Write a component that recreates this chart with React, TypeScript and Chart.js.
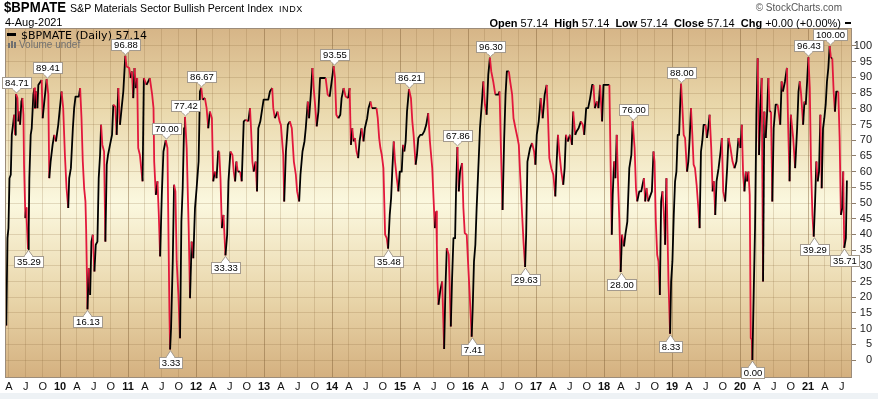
import React, { useEffect, useRef } from 'react';
import { Chart, registerables } from 'chart.js';

Chart.register(...registerables);

// ---- data: [decimal year, bullish percent] ----
const readings2009to2012: [number, number][] = [
  [2009.198, 15.0], [2009.210, 11.0], [2009.227, 38.8], [2009.242, 42.0], [2009.257, 57.9], [2009.276, 59.0], [2009.291, 71.7], [2009.315, 76.0], [2009.325, 78.1], [2009.340, 71.7],
  [2009.349, 79.1], [2009.354, 84.71], [2009.374, 83.4], [2009.388, 76.0], [2009.403, 79.1], [2009.413, 74.9], [2009.432, 82.3], [2009.447, 83.4], [2009.462, 78.1], [2009.471, 62.2],
  [2009.491, 45.2], [2009.501, 48.4], [2009.510, 44.6], [2009.530, 35.29], [2009.540, 42.0], [2009.549, 57.9], [2009.569, 71.7], [2009.584, 73.8], [2009.608, 84.5], [2009.623, 86.6],
  [2009.632, 80.2], [2009.647, 85.5], [2009.667, 80.2], [2009.681, 87.6], [2009.715, 88.7], [2009.730, 89.2], [2009.745, 77.0], [2009.769, 82.3], [2009.803, 89.41], [2009.828, 84.5],
  [2009.842, 57.9], [2009.862, 63.2], [2009.891, 68.5], [2009.915, 71.7], [2009.940, 69.6], [2009.974, 74.9], [2009.998, 80.2], [2010.023, 85.5], [2010.047, 80.2], [2010.072, 65.3],
  [2010.096, 54.7], [2010.121, 48.4], [2010.135, 57.9], [2010.160, 61.1], [2010.189, 73.8], [2010.208, 80.2], [2010.228, 83.9], [2010.277, 83.9], [2010.296, 86.6], [2010.316, 77.0],
  [2010.335, 63.2], [2010.355, 54.7], [2010.374, 50.5], [2010.384, 42.0], [2010.404, 16.13], [2010.423, 29.2], [2010.443, 20.7], [2010.462, 37.7], [2010.482, 39.9], [2010.506, 28.2],
  [2010.526, 36.7], [2010.550, 37.7], [2010.569, 57.9], [2010.589, 65.3], [2010.604, 74.9], [2010.623, 68.5], [2010.648, 66.4], [2010.667, 37.7], [2010.687, 62.2], [2010.706, 65.3],
  [2010.735, 68.5], [2010.765, 71.7], [2010.784, 81.3], [2010.813, 80.7], [2010.833, 71.7], [2010.857, 86.6], [2010.882, 74.9], [2010.906, 80.2], [2010.931, 85.5], [2010.960, 96.88],
  [2010.979, 93.5], [2011.018, 93.0], [2011.038, 89.8], [2011.057, 91.9], [2011.077, 83.4], [2011.096, 93.0], [2011.116, 86.6], [2011.135, 89.8], [2011.150, 67.5], [2011.175, 65.3],
  [2011.199, 60.0], [2011.214, 56.9], [2011.233, 89.8], [2011.272, 87.6], [2011.321, 89.8], [2011.355, 84.5], [2011.375, 80.2], [2011.385, 63.2], [2011.409, 52.6], [2011.433, 56.9],
  [2011.453, 46.2], [2011.472, 33.0], [2011.497, 52.6], [2011.521, 66.4], [2011.555, 70.0], [2011.580, 67.5], [2011.594, 42.0], [2011.609, 15.4], [2011.619, 3.33], [2011.633, 10.1],
  [2011.658, 31.4], [2011.677, 55.8], [2011.697, 53.7], [2011.716, 31.4], [2011.741, 20.7], [2011.765, 6.9], [2011.785, 44.1], [2011.804, 54.7], [2011.824, 73.8], [2011.838, 77.42],
  [2011.863, 67.5], [2011.892, 42.0], [2011.912, 19.7], [2011.936, 37.7], [2011.960, 32.4], [2011.985, 48.4], [2012.009, 54.7], [2012.038, 63.2], [2012.058, 85.5], [2012.078, 86.67],
  [2012.097, 82.9], [2012.131, 83.4], [2012.156, 80.2], [2012.180, 73.8], [2012.204, 79.1], [2012.234, 77.0], [2012.253, 56.9], [2012.278, 60.0], [2012.302, 57.9], [2012.326, 66.4],
];

const readings2012to2015: [number, number][] = [
  [2012.341, 66.4], [2012.360, 57.9], [2012.380, 42.0], [2012.404, 46.2], [2012.433, 33.33], [2012.458, 39.9], [2012.477, 56.9], [2012.506, 66.4], [2012.536, 65.3], [2012.555, 60.0],
  [2012.575, 56.9], [2012.594, 63.2], [2012.614, 60.0], [2012.648, 60.0], [2012.672, 56.9], [2012.702, 76.0], [2012.731, 76.5], [2012.770, 76.0], [2012.794, 80.2], [2012.809, 73.8],
  [2012.829, 63.2], [2012.848, 60.0], [2012.877, 63.2], [2012.897, 53.7], [2012.916, 73.8], [2012.946, 76.0], [2012.975, 80.2], [2012.994, 82.9], [2013.063, 82.9], [2013.087, 85.5],
  [2013.121, 86.6], [2013.136, 80.2], [2013.160, 77.0], [2013.199, 79.1], [2013.229, 76.0], [2013.248, 74.9], [2013.283, 65.3], [2013.297, 50.5], [2013.322, 66.4], [2013.351, 74.9],
  [2013.380, 76.0], [2013.409, 73.8], [2013.439, 63.2], [2013.468, 59.0], [2013.487, 53.7], [2013.517, 50.5], [2013.536, 59.0], [2013.566, 66.4], [2013.595, 69.6], [2013.614, 73.8],
  [2013.644, 82.3], [2013.663, 77.0], [2013.688, 84.5], [2013.712, 93.0], [2013.731, 86.6], [2013.751, 81.3], [2013.775, 74.4], [2013.800, 79.1], [2013.824, 89.8], [2013.907, 89.8],
  [2013.936, 84.5], [2013.966, 83.9], [2013.985, 87.1], [2014.024, 93.55], [2014.044, 89.8], [2014.063, 78.1], [2014.093, 77.0], [2014.122, 78.1], [2014.141, 83.4], [2014.171, 86.6],
  [2014.200, 83.9], [2014.239, 83.4], [2014.259, 86.6], [2014.278, 68.5], [2014.298, 73.8], [2014.317, 69.6], [2014.337, 70.7], [2014.361, 66.4], [2014.385, 64.3], [2014.405, 69.6],
  [2014.434, 73.8], [2014.463, 69.6], [2014.483, 73.8], [2014.517, 77.0], [2014.537, 80.2], [2014.566, 82.3], [2014.586, 80.2], [2014.654, 80.2], [2014.673, 77.0], [2014.693, 70.7],
  [2014.712, 67.5], [2014.732, 65.3], [2014.756, 61.1], [2014.781, 39.9], [2014.805, 38.8], [2014.825, 35.48], [2014.849, 46.2], [2014.869, 51.5], [2014.888, 61.1], [2014.908, 69.6],
  [2014.927, 63.2], [2014.952, 57.9], [2014.976, 53.7], [2014.996, 60.0], [2015.025, 60.0], [2015.044, 68.5], [2015.064, 66.4], [2015.083, 69.6], [2015.103, 79.1], [2015.132, 86.21],
  [2015.161, 83.4], [2015.181, 76.0], [2015.200, 71.7], [2015.230, 62.2], [2015.249, 65.3], [2015.269, 70.7], [2015.298, 71.7], [2015.327, 71.7], [2015.356, 72.8], [2015.386, 74.9],
  [2015.415, 78.6], [2015.440, 69.6], [2015.474, 61.1], [2015.493, 51.5], [2015.513, 42.0],
];

const readings2015to2018: [number, number][] = [
  [2015.532, 47.3], [2015.542, 36.7], [2015.551, 25.0], [2015.566, 17.6], [2015.590, 21.8], [2015.620, 25.0], [2015.649, 3.5], [2015.668, 22.9], [2015.688, 35.6], [2015.717, 33.5],
  [2015.747, 10.7], [2015.766, 26.1], [2015.786, 38.8], [2015.810, 38.8], [2015.825, 54.7], [2015.844, 67.86], [2015.864, 53.7], [2015.883, 60.0], [2015.913, 62.7], [2015.932, 48.4],
  [2015.952, 40.4], [2015.981, 39.9], [2016.000, 31.4], [2016.020, 22.9], [2016.039, 14.4], [2016.054, 7.41], [2016.069, 16.5], [2016.088, 31.4], [2016.108, 36.7], [2016.127, 48.4],
  [2016.156, 63.2], [2016.176, 73.8], [2016.205, 82.3], [2016.225, 88.7], [2016.249, 81.3], [2016.274, 78.1], [2016.298, 90.8], [2016.322, 96.3], [2016.342, 91.9], [2016.371, 88.7],
  [2016.401, 84.5], [2016.445, 84.5], [2016.464, 85.5], [2016.484, 67.5], [2016.508, 47.8], [2016.532, 70.7], [2016.552, 84.5], [2016.571, 91.9], [2016.601, 91.9], [2016.620, 88.7],
  [2016.649, 84.5], [2016.669, 77.0], [2016.698, 73.8], [2016.728, 70.7], [2016.747, 68.5], [2016.767, 59.0], [2016.796, 46.2], [2016.816, 37.7], [2016.840, 29.63], [2016.855, 39.9],
  [2016.874, 63.2], [2016.893, 65.3], [2016.913, 67.5], [2016.942, 69.1], [2016.972, 66.4], [2016.991, 62.2], [2017.011, 71.7], [2017.040, 76.0], [2017.069, 83.4], [2017.098, 77.0],
  [2017.128, 84.5], [2017.157, 87.6], [2017.177, 77.0], [2017.196, 64.3], [2017.225, 61.1], [2017.255, 59.0], [2017.284, 52.1], [2017.304, 63.2], [2017.323, 71.7], [2017.342, 66.4],
  [2017.372, 60.0], [2017.401, 55.8], [2017.421, 61.1], [2017.440, 71.7], [2017.469, 69.6], [2017.499, 71.7], [2017.528, 68.5], [2017.547, 79.1], [2017.577, 71.7], [2017.596, 72.8],
  [2017.626, 73.8], [2017.660, 76.0], [2017.689, 74.9], [2017.709, 71.7], [2017.738, 80.2], [2017.767, 80.2], [2017.796, 83.4], [2017.826, 87.6], [2017.845, 87.6], [2017.865, 80.2],
  [2017.894, 82.3], [2017.918, 80.2], [2017.943, 87.6], [2017.972, 76.0], [2017.992, 87.6], [2018.079, 87.6], [2018.099, 60.0], [2018.114, 39.9], [2018.128, 52.6], [2018.148, 63.2],
  [2018.167, 57.9], [2018.187, 71.7], [2018.206, 56.9], [2018.226, 44.1], [2018.245, 28.0], [2018.265, 39.9], [2018.294, 36.2], [2018.314, 39.9], [2018.343, 44.1], [2018.372, 61.1],
  [2018.402, 65.3], [2018.421, 76.0], [2018.450, 67.5], [2018.470, 54.7], [2018.489, 50.5], [2018.519, 53.7], [2018.548, 53.7], [2018.567, 55.8], [2018.587, 57.9], [2018.606, 50.5],
  [2018.626, 54.7], [2018.650, 50.5],
];

const readings2018to2021: [number, number][] = [
  [2018.704, 53.7], [2018.728, 66.4], [2018.743, 63.2], [2018.762, 44.1], [2018.782, 33.5], [2018.801, 31.4], [2018.821, 20.7], [2018.840, 50.5], [2018.860, 53.7], [2018.879, 47.3],
  [2018.899, 36.7], [2018.918, 57.9], [2018.948, 25.0], [2018.972, 8.33], [2018.987, 25.0], [2019.006, 31.4], [2019.026, 46.2], [2019.045, 56.9], [2019.065, 60.0], [2019.084, 71.7],
  [2019.104, 71.7], [2019.118, 80.2], [2019.133, 88.0], [2019.153, 80.2], [2019.172, 71.7], [2019.192, 70.7], [2019.221, 60.0], [2019.240, 63.2], [2019.260, 70.7], [2019.279, 80.2],
  [2019.299, 71.7], [2019.318, 62.2], [2019.338, 61.1], [2019.362, 55.8], [2019.387, 48.4], [2019.406, 42.0], [2019.426, 66.4], [2019.445, 69.6], [2019.465, 74.9], [2019.494, 74.9],
  [2019.514, 70.7], [2019.533, 73.8], [2019.553, 78.1], [2019.577, 67.5], [2019.597, 53.7], [2019.616, 56.9], [2019.636, 46.2], [2019.655, 56.9], [2019.685, 61.1], [2019.714, 66.4],
  [2019.733, 70.7], [2019.753, 53.7], [2019.782, 50.5], [2019.811, 61.1], [2019.831, 70.7], [2019.860, 67.5], [2019.890, 63.2], [2019.919, 61.1], [2019.948, 63.2], [2019.978, 70.7],
  [2020.007, 67.5], [2020.026, 74.9], [2020.046, 59.0], [2020.065, 53.7], [2020.085, 60.0], [2020.104, 56.9], [2020.124, 60.0], [2020.143, 52.6], [2020.158, 7.0], [2020.173, 6.5],
  [2020.182, 0.0], [2020.202, 21.8], [2020.221, 42.0], [2020.241, 78.1], [2020.260, 96.1], [2020.280, 65.3], [2020.299, 80.2], [2020.319, 89.8], [2020.339, 25.0], [2020.358, 79.1],
  [2020.378, 70.7], [2020.397, 78.1], [2020.417, 89.8], [2020.436, 79.1], [2020.456, 79.1], [2020.475, 50.5], [2020.495, 73.8], [2020.524, 81.3], [2020.553, 81.3], [2020.573, 78.1],
  [2020.592, 74.9], [2020.612, 88.7], [2020.631, 85.5], [2020.661, 88.7], [2020.690, 93.0], [2020.709, 73.8], [2020.729, 56.9], [2020.748, 78.1], [2020.782, 70.7], [2020.811, 61.1],
  [2020.840, 73.8], [2020.860, 85.5], [2020.879, 88.7], [2020.899, 84.5], [2020.928, 74.9], [2020.948, 82.3], [2020.967, 81.3], [2020.987, 88.7], [2021.006, 96.43], [2021.026, 86.6],
  [2021.045, 61.1], [2021.065, 46.2], [2021.084, 39.29], [2021.104, 50.5], [2021.123, 63.2], [2021.143, 56.9], [2021.162, 60.0], [2021.182, 78.1], [2021.201, 54.7], [2021.221, 73.8],
  [2021.240, 77.0], [2021.260, 81.3], [2021.279, 88.7], [2021.299, 93.0], [2021.318, 100.0], [2021.338, 96.1], [2021.357, 96.1], [2021.377, 85.5], [2021.396, 79.1], [2021.416, 85.5],
  [2021.445, 85.5], [2021.465, 70.7], [2021.484, 46.2], [2021.504, 48.4], [2021.518, 60.0], [2021.533, 35.71], [2021.557, 38.8], [2021.572, 57.14],
];

const peakDates = [2009.354, 2009.803, 2010.960, 2011.555, 2011.838, 2012.078, 2014.024, 2015.132, 2015.844, 2016.322, 2018.421, 2019.133, 2021.006, 2021.318];
const troughDates = [2009.530, 2010.404, 2011.619, 2012.433, 2014.825, 2016.054, 2016.840, 2018.245, 2018.972, 2020.182, 2021.084, 2021.533];

const yTickValues = [0, 5, 10, 15, 20, 25, 30, 35, 40, 45, 50, 55, 60, 65, 70, 75, 80, 85, 90, 95, 100];
const quarterNames = ['', 'A', 'J', 'O'];
const quarterOffsets = [0, 0.247, 0.496, 0.748];
const firstYear = 2009;
const lastYear = 2021;
const xMin = 2009.191;
const xMax = 2021.647;
const yMin = -5.73;
const yMax = 105.73;

const symbol = '$BPMATE';
const title = 'S&P Materials Sector Bullish Percent Index';
const exchange = 'INDX';
const dateText = '4-Aug-2021';
const lastClose = '57.14';
const ohlc: [string, string][] = [['Open', '57.14'], ['High', '57.14'], ['Low', '57.14'], ['Close', '57.14'], ['Chg', '+0.00 (+0.00%)']];

// ---- styling ----
const RED = '#e2183c';
const SANS = '"Liberation Sans", Arial, sans-serif';
const DEJAVU = '"DejaVu Sans", Verdana, sans-serif';
const FRAME = '#9c8c7a';

const series: [number, number][] = [...readings2009to2012, ...readings2012to2015, ...readings2015to2018, ...readings2018to2021];

const xTickValues: number[] = [];
for (let y = firstYear; y <= lastYear; y++) {
  quarterOffsets.forEach((o) => {
    const v = y + o;
    if (v >= xMin && v <= xMax) xTickValues.push(v);
  });
}
const quarterOf = (v: number) => {
  const frac = v - Math.floor(v + 1e-6);
  let best = 0;
  quarterOffsets.forEach((o, i) => {
    if (Math.abs(frac - o) < Math.abs(frac - quarterOffsets[best])) best = i;
  });
  return best;
};
const isYear = (v: number) => quarterOf(v) === 0;

const decorPlugin = {
  id: 'decor',
  beforeDraw(chart: any) {
    const { ctx, chartArea: a, width, height } = chart;
    ctx.save();
    ctx.fillStyle = '#ffffff';
    ctx.fillRect(0, 0, width, height);
    ctx.fillStyle = '#eef2f5';
    ctx.fillRect(0, 393, width, height - 393);
    const g = ctx.createLinearGradient(0, a.top, 0, a.bottom);
    g.addColorStop(0, '#d6b587');
    g.addColorStop(0.22, '#e9d7aa');
    g.addColorStop(0.5, '#fbf8df');
    g.addColorStop(0.78, '#e8d4a8');
    g.addColorStop(1, '#d4b07f');
    ctx.fillStyle = g;
    ctx.fillRect(a.left, a.top, a.right - a.left, a.bottom - a.top);
    ctx.restore();
  },
  afterDatasetsDraw(chart: any) {
    const { ctx, chartArea: a } = chart;
    ctx.save();
    ctx.strokeStyle = FRAME;
    ctx.lineWidth = 1;
    ctx.strokeRect(Math.round(a.left) + 0.5, Math.round(a.top) + 0.5, Math.round(a.right - a.left) - 1, Math.round(a.bottom - a.top) - 1);
    ctx.restore();
  },
  afterDraw(chart: any) {
    const { ctx } = chart;
    ctx.save();
    ctx.textBaseline = 'alphabetic';
    ctx.textAlign = 'left';
    // title
    ctx.fillStyle = '#000';
    ctx.save();
    ctx.translate(4, 12);
    ctx.scale(0.88, 1);
    ctx.font = `bold 15px ${SANS}`;
    ctx.fillText(symbol, 0, 0);
    ctx.restore();
    ctx.font = `10.6px ${SANS}`;
    ctx.fillText(title, 70, 12);
    ctx.font = `9px ${SANS}`;
    (ctx as any).letterSpacing = '0.6px';
    ctx.fillText(exchange, 279, 12);
    (ctx as any).letterSpacing = '0px';
    ctx.font = `11px ${SANS}`;
    ctx.fillText(dateText, 5, 26);
    // copyright
    ctx.fillStyle = '#555';
    ctx.font = `10px ${SANS}`;
    ctx.textAlign = 'right';
    ctx.fillText('\u00a9 StockCharts.com', 842, 11);
    // OHLC line
    ctx.textAlign = 'left';
    const boldF = `bold 11px ${SANS}`;
    const regF = `11px ${SANS}`;
    let total = 0;
    ohlc.forEach(([k, v], i) => {
      ctx.font = boldF;
      total += ctx.measureText(k).width;
      ctx.font = regF;
      total += ctx.measureText(' ' + v + (i < ohlc.length - 1 ? '  ' : '')).width;
    });
    let x = 841 - total;
    ctx.fillStyle = '#000';
    ohlc.forEach(([k, v], i) => {
      ctx.font = boldF;
      ctx.fillText(k, x, 27);
      x += ctx.measureText(k).width;
      ctx.font = regF;
      const s = ' ' + v + (i < ohlc.length - 1 ? '  ' : '');
      ctx.fillText(s, x, 27);
      x += ctx.measureText(s).width;
    });
    ctx.fillRect(845, 22, 6, 2);
    // legend inside plot
    ctx.fillRect(7, 33, 9, 3);
    ctx.font = `11px ${DEJAVU}`;
    ctx.fillText(`${symbol} (Daily) ${lastClose}`, 21, 39);
    ctx.fillStyle = '#707070';
    ctx.fillRect(8, 43, 2, 5);
    ctx.fillRect(11, 41, 2, 7);
    ctx.fillRect(14, 42, 2, 6);
    ctx.font = `10px ${SANS}`;
    ctx.fillText('Volume undef', 19, 48);

    // value callouts
    const meta = chart.getDatasetMeta(0);
    const drawCallout = (date: number, kind: 'high' | 'low') => {
      const i = series.findIndex((p) => Math.abs(p[0] - date) < 1e-6);
      if (i < 0) return;
      const el = meta.data[i];
      const px = Math.round(el.x);
      const py = el.y;
      const text = series[i][1].toFixed(2);
      ctx.font = `9.5px ${SANS}`;
      const w = Math.round(ctx.measureText(text).width) + 5;
      const h = 11;
      const tri = 5;
      const bx = Math.round(px - w / 2) + 0.5;
      let by: number, baseY: number, apexY: number;
      if (kind === 'high') {
        baseY = Math.round(py - tri - 1) + 0.5;
        by = baseY - h;
        apexY = py - 1;
      } else {
        baseY = Math.round(py + tri + 2) + 0.5;
        by = baseY;
        apexY = py + 1;
      }
      ctx.fillStyle = '#ffffff';
      ctx.strokeStyle = '#a39a8e';
      ctx.lineWidth = 1;
      ctx.fillRect(bx, by, w, h);
      ctx.strokeRect(bx, by, w, h);
      ctx.beginPath();
      ctx.moveTo(px - 4, baseY);
      ctx.lineTo(px + 0.5, apexY);
      ctx.lineTo(px + 5, baseY);
      ctx.closePath();
      ctx.fill();
      ctx.beginPath();
      ctx.moveTo(px - 4, baseY);
      ctx.lineTo(px + 0.5, apexY);
      ctx.lineTo(px + 5, baseY);
      ctx.stroke();
      ctx.fillRect(px - 3, baseY - 1, 7, 2);
      ctx.fillStyle = '#000';
      ctx.textAlign = 'center';
      ctx.textBaseline = 'middle';
      ctx.fillText(text, bx + w / 2, by + h / 2 + 0.5);
      ctx.textAlign = 'left';
      ctx.textBaseline = 'alphabetic';
    };
    peakDates.forEach((d) => drawCallout(d, 'high'));
    troughDates.forEach((d) => drawCallout(d, 'low'));
    ctx.restore();
  },
};

export default function App() {
  const ref = useRef<HTMLCanvasElement>(null);
  useEffect(() => {
    if (!ref.current) return;
    const chart = new Chart(ref.current, {
      type: 'line',
      data: {
        datasets: [
          {
            data: series.map(([x, y]) => ({ x, y })),
            borderColor: '#000',
            borderWidth: 1.8,
            pointRadius: 0,
            tension: 0,
            fill: false,
            borderJoinStyle: 'round',
            segment: {
              borderColor: (c: any) => (c.p1.parsed.y < c.p0.parsed.y ? RED : '#000'),
            },
          } as any,
        ],
      },
      options: {
        responsive: false,
        animation: false,
        devicePixelRatio: 1,
        events: [],
        layout: { padding: { left: 5, top: 28, right: 6, bottom: 0 } },
        plugins: { legend: { display: false }, tooltip: { enabled: false } },
        scales: {
          x: {
            type: 'linear',
            min: xMin,
            max: xMax,
            afterBuildTicks: (s: any) => {
              s.ticks = xTickValues.map((v) => ({ value: v }));
            },
            afterFit: (s: any) => {
              s.height = 21;
              s.paddingLeft = 0;
              s.paddingRight = 0;
            },
            ticks: {
              autoSkip: false,
              maxRotation: 0,
              minRotation: 0,
              padding: 2,
              color: '#111',
              font: (c: any) => ({
                family: SANS,
                size: 11,
                weight: c.tick && isYear(c.tick.value) ? 'bold' : 'normal',
              }),
              callback: (v: any) => {
                const q = quarterOf(v);
                if (q === 0) return String(Math.round(v) % 100).padStart(2, '0');
                return quarterNames[q];
              },
            },
            grid: {
              drawTicks: false,
              lineWidth: 1,
              color: (c: any) =>
                c.tick && isYear(c.tick.value) ? 'rgba(120,85,45,0.42)' : 'rgba(130,95,50,0.2)',
            },
            border: { display: false },
          },
          y: {
            position: 'right',
            min: yMin,
            max: yMax,
            afterBuildTicks: (s: any) => {
              s.ticks = yTickValues.map((v) => ({ value: v }));
            },
            afterFit: (s: any) => {
              s.width = 20;
              s.paddingTop = 0;
              s.paddingBottom = 0;
            },
            ticks: {
              crossAlign: 'far',
              padding: -1,
              color: '#222',
              font: { family: SANS, size: 11 },
            },
            grid: {
              color: 'rgba(130,95,50,0.2)',
              lineWidth: 1,
              drawTicks: true,
              tickLength: 4,
              tickColor: '#8f7f6c',
            },
            border: { display: false },
          },
        },
      } as any,
      plugins: [decorPlugin],
    });
    return () => chart.destroy();
  }, []);
  return (
    <div style={{ position: 'fixed', left: 0, top: 0, width: 878, height: 399, background: '#fff' }}>
      <canvas ref={ref} width={878} height={399} style={{ display: 'block', width: 878, height: 399 }} />
    </div>
  );
}
